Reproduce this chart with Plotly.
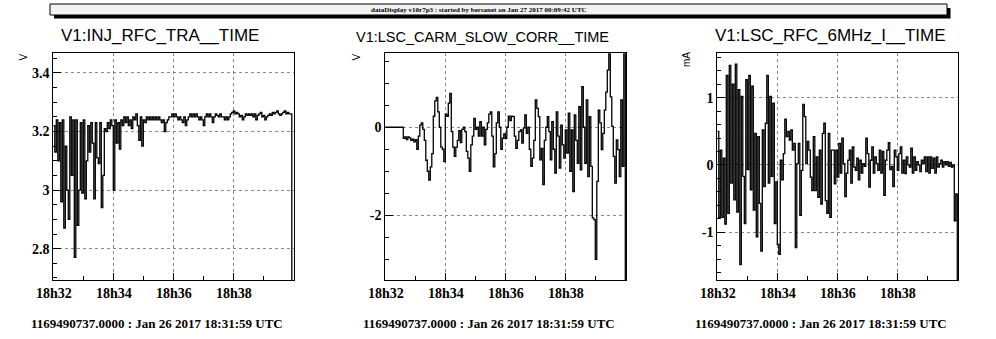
import numpy as np
import plotly.graph_objects as go

# ---------------- data ----------------
STEP_S = 3  # sampling step in seconds from 18:31:59 UTC

inj_rfc_tra = [
    3.22, 3.13, 3.24, 3.10, 3.23, 2.96, 3.24, 2.87, 3.15, 3.00,
    2.90, 3.25, 3.05, 3.24, 2.77, 3.24, 2.88, 3.00, 3.23, 2.99,
    3.24, 2.97, 3.10, 3.22, 3.13, 3.23, 3.16, 2.97, 3.23, 3.11,
    3.09, 3.23, 2.94, 3.05, 3.21, 3.20, 3.23, 3.21, 3.24, 3.22,
    3.00, 3.24, 3.16, 3.23, 3.14, 3.24, 3.22, 3.25, 3.23, 3.25,
    3.22, 3.24, 3.21, 3.25, 3.24, 3.26, 3.22, 3.17, 3.25, 3.15,
    3.24, 3.23, 3.25, 3.24, 3.25, 3.24, 3.25, 3.24, 3.25, 3.24,
    3.25, 3.24, 3.23, 3.24, 3.20, 3.23, 3.24, 3.25, 3.25, 3.26,
    3.25, 3.26, 3.25, 3.24, 3.25, 3.24, 3.23, 3.25, 3.22, 3.24,
    3.25, 3.26, 3.25, 3.26, 3.25, 3.26, 3.25, 3.24, 3.25, 3.24,
    3.22, 3.25, 3.26, 3.25, 3.26, 3.25, 3.23, 3.25, 3.26, 3.255,
    3.25, 3.26, 3.25, 3.25, 3.24, 3.25, 3.24, 3.25, 3.26, 3.265,
    3.27, 3.26, 3.265, 3.26, 3.25, 3.255, 3.24, 3.25, 3.26, 3.255,
    3.26, 3.255, 3.26, 3.25, 3.26, 3.24, 3.255, 3.26, 3.265, 3.25,
    3.255, 3.24, 3.25, 3.255, 3.26, 3.255, 3.265, 3.26, 3.265, 3.27,
    3.26, 3.255, 3.26, 3.265, 3.27, 3.26, 3.265, 3.26, 3.26, 0.0,
]

lsc_carm_slow_corr = [
    0, 0, 0, 0, 0, 0, 0, 0, 0, 0,
    0, 0, -0.25, -0.22, -0.28, -0.22, -0.24, -0.30, -0.27, -0.33,
    -0.28, -0.50, -0.20, 0.05, 0.10, -0.05, -0.30, -0.75, -1.00, -1.20,
    -0.90, -0.60, 0.25, 0.60, 0.68, 0.35, 0.00, -0.45, -0.50, -0.78,
    0.30, 0.25, 0.55, 0.77, -0.10, -0.45, -0.66, -0.45, -0.30, -0.08,
    -0.35, -0.05, 0.00, -0.10, -0.55, -0.70, -1.00, -0.40, -0.20, 0.20,
    -0.05, 0.00, -0.20, 0.13, -0.20, 0.00, -0.40, -0.05, 0.10, 0.30,
    0.35, -0.20, -0.90, -0.60, 0.10, 0.35, 0.00, -0.50, -0.25, -0.15,
    -0.25, 0.00, 0.25, 0.15, 0.25, 0.24, -0.20, -0.48, -0.30, -0.10,
    -0.06, -0.36, -0.02, 0.28, -0.14, 0.00, -0.50, -0.89, -0.70, -0.30,
    0.62, 0.43, 0.24, -0.74, -0.48, -1.30, -0.30, 0.00, 0.24, -0.10,
    -0.74, 0.13, -0.50, -1.04, 0.35, -0.20, -0.93, 0.05, -0.40, -0.70,
    -0.06, -0.59, 0.32, -1.00, -0.06, -1.46, 0.28, -0.30, -0.82, 0.47,
    -0.97, 0.92, 0.00, -0.82, 0.62, -1.12, 0.24, -0.89, -2.06, -2.10,
    -3.00, -1.23, 0.39, 0.10, -0.51, -0.14, 0.39, 0.80, 1.30, 1.68,
    0.69, 0.02, -0.66, -1.27, -0.29, -0.51, -1.12, 0.62, -0.89, 5.0,
    -5.0,
]

lsc_rfc_6mhz_i = [
    0.50, -0.78, 0.22, -0.78, 0.10, -0.88, 1.33, -0.72, 1.48, -0.27,
    1.20, -0.52, 1.50, -0.70, 1.12, -1.48, 1.02, -0.17, -0.87, 1.27,
    -0.07, 1.33, -0.37, 1.17, -0.67, 0.47, -1.07, 0.42, -0.57, -1.28,
    0.52, -0.32, 0.62, 1.33, -0.27, 1.02, -0.17, 0.92, -0.87, -0.25,
    -1.18, -1.33, 0.07, -0.22, 0.17, 0.68, 0.42, 0.50, 0.37, 0.52,
    0.22, 0.32, -1.23, 0.02, 0.32, -0.75, -0.08, 0.90, 0.72, 0.02,
    0.35, 0.22, -0.18, -0.38, 0.42, -0.38, 0.12, -0.48, 0.22, -0.58,
    0.47, 0.62, -0.53, -0.72, 0.47, -0.78, 0.22, 0.22, -0.28, 0.22,
    -0.18, 0.32, -0.12, 0.40, 0.02, -0.47, -0.12, 0.07, 0.22, -0.27,
    0.27, -0.03, -0.08, 0.10, -0.22, 0.07, -0.12, 0.02, -0.02, 0.40,
    0.17, -0.33, 0.07, 0.27, -0.12, 0.12, 0.02, -0.08, 0.22, -0.12,
    0.20, -0.45, 0.07, 0.22, 0.33, -0.07, -0.02, -0.32, 0.22, 0.12,
    -0.08, 0.17, 0.27, -0.12, 0.07, -0.13, 0.12, 0.00, -0.03, 0.25,
    -0.12, 0.12, -0.08, 0.05, 0.00, -0.10, 0.07, 0.02, 0.12, -0.10,
    0.12, -0.12, 0.12, -0.05, 0.10, -0.12, 0.12, -0.03, 0.02, 0.07,
    -0.03, 0.05, 0.00, 0.05, -0.02, 0.04, -0.03, 0.00, -0.83, -0.43,
    -5.0,
]

titles = ["V1:INJ_RFC_TRA__TIME", "V1:LSC_CARM_SLOW_CORR__TIME", "V1:LSC_RFC_6MHz_I__TIME"]
title_sizes = [17, 14.5, 17]
units = ["V", "V", "mA"]
x_tickvals = [1, 121, 241, 361]
x_ticktext = ["18h32", "18h34", "18h36", "18h38"]
y_tickvals = [[2.8, 3.0, 3.2, 3.4], [-2, 0], [-1, 0, 1]]
y_ticktext = [["2.8", "3", "3.2", "3.4"], ["-2", "0"], ["-1", "0", "1"]]
y_ranges = [[2.693, 3.467], [-3.47, 1.68], [-1.71, 1.66]]
y_minor = [0.05, 0.5, 0.2]
gps_label = "1169490737.0000 : Jan 26 2017 18:31:59 UTC"
header = "dataDisplay v10r7p3 : started by bersanet on Jan 27 2017 00:09:42 UTC"

series = [inj_rfc_tra, lsc_carm_slow_corr, lsc_rfc_6mhz_i]

# ---------------- layout ----------------
W, H = 996, 339
px = lambda x: x / W
py = lambda y: 1 - y / H

panel_left = [53.3, 385.3, 717.3]
panel_w = 240.7
top, bottom = 53.3, 280.0

fig = go.Figure()
layout = dict(
    template="none",
    width=W, height=H, margin=dict(l=0, r=0, t=0, b=0, pad=0, autoexpand=False),
    paper_bgcolor="white", plot_bgcolor="white", showlegend=False,
)

tick_font = dict(family="Liberation Serif", size=14, color="black", weight="bold")
annotations = []
shapes = []

for k in range(3):
    vals = series[k]
    t = np.arange(len(vals)) * STEP_S
    xa = "x" if k == 0 else f"x{k+1}"
    ya = "y" if k == 0 else f"y{k+1}"
    fig.add_trace(go.Scatter(x=t, y=vals, mode="lines", xaxis=xa, yaxis=ya,
                             line=dict(color="black", width=1.3, shape="hv"),
                             hoverinfo="skip"))
    xk = "xaxis" if k == 0 else f"xaxis{k+1}"
    yk = "yaxis" if k == 0 else f"yaxis{k+1}"
    layout[xk] = dict(
        domain=[px(panel_left[k]), px(panel_left[k] + panel_w)],
        anchor=ya, range=[0, 481.4], automargin=False,
        tickmode="array", tickvals=x_tickvals, ticktext=x_ticktext,
        ticks="inside", ticklen=7, tickcolor="black", tickwidth=1,
        minor=dict(tickmode="array", tickvals=[61, 181, 301, 421], ticks="inside",
                   ticklen=4, tickcolor="black", showgrid=False),
        showline=True, linecolor="black", linewidth=1, mirror=True,
        showgrid=True, gridcolor="#8a8a8a", griddash="dot", gridwidth=1,
        zeroline=False, tickfont=tick_font,
    )
    layout[yk] = dict(
        domain=[py(bottom), py(top)], anchor=xa, range=y_ranges[k], automargin=False,
        tickmode="array", tickvals=y_tickvals[k], ticktext=y_ticktext[k],
        ticks="inside", ticklen=8, tickcolor="black", tickwidth=1,
        minor=dict(dtick=y_minor[k], tick0=0, ticks="inside", ticklen=4,
                   tickcolor="black", showgrid=False),
        showline=True, linecolor="black", linewidth=1, mirror=True,
        showgrid=True, gridcolor="#8a8a8a", griddash="dot", gridwidth=1,
        zeroline=False, tickfont=tick_font,
    )
    off = 332 * k
    # panel title
    annotations.append(dict(
        x=px([160, 482, 830][k]), y=py([36, 36.5, 36][k]), xref="paper", yref="paper",
        text=titles[k], showarrow=False, xanchor="center", yanchor="middle",
        font=dict(family="Liberation Sans", size=title_sizes[k], color="black")))
    # unit label
    annotations.append(dict(
        x=px([22.5, 355.5, 686.5][k]), y=py([57, 57, 59.5][k]), xref="paper", yref="paper",
        text=units[k], showarrow=False, textangle=-90, xanchor="center", yanchor="middle",
        font=dict(family="Liberation Sans", size=10, color="black")))
    # gps time label
    annotations.append(dict(
        x=px(157 + off), y=py(323), xref="paper", yref="paper",
        text=gps_label, showarrow=False, xanchor="center", yanchor="middle",
        font=dict(family="Liberation Serif", size=13, color="black", weight="bold")))

# header bar with shadow
shapes.append(dict(type="rect", xref="paper", yref="paper",
                   x0=px(54), x1=px(950.5), y0=py(18.5), y1=py(8),
                   fillcolor="black", line=dict(width=0), layer="above"))
shapes.append(dict(type="rect", xref="paper", yref="paper",
                   x0=px(50), x1=px(947), y0=py(15), y1=py(4),
                   fillcolor="#f2f2f2", line=dict(color="black", width=1), layer="above"))
annotations.append(dict(
    x=px(479), y=py(10), xref="paper", yref="paper", text=header, showarrow=False,
    xanchor="center", yanchor="middle",
    font=dict(family="Liberation Serif", size=7, color="black", weight="bold")))

layout["annotations"] = annotations
layout["shapes"] = shapes
fig.update_layout(**layout)
fig.write_html("out.html", config={"displayModeBar": False},
               post_script="document.body.style.margin='0';")
